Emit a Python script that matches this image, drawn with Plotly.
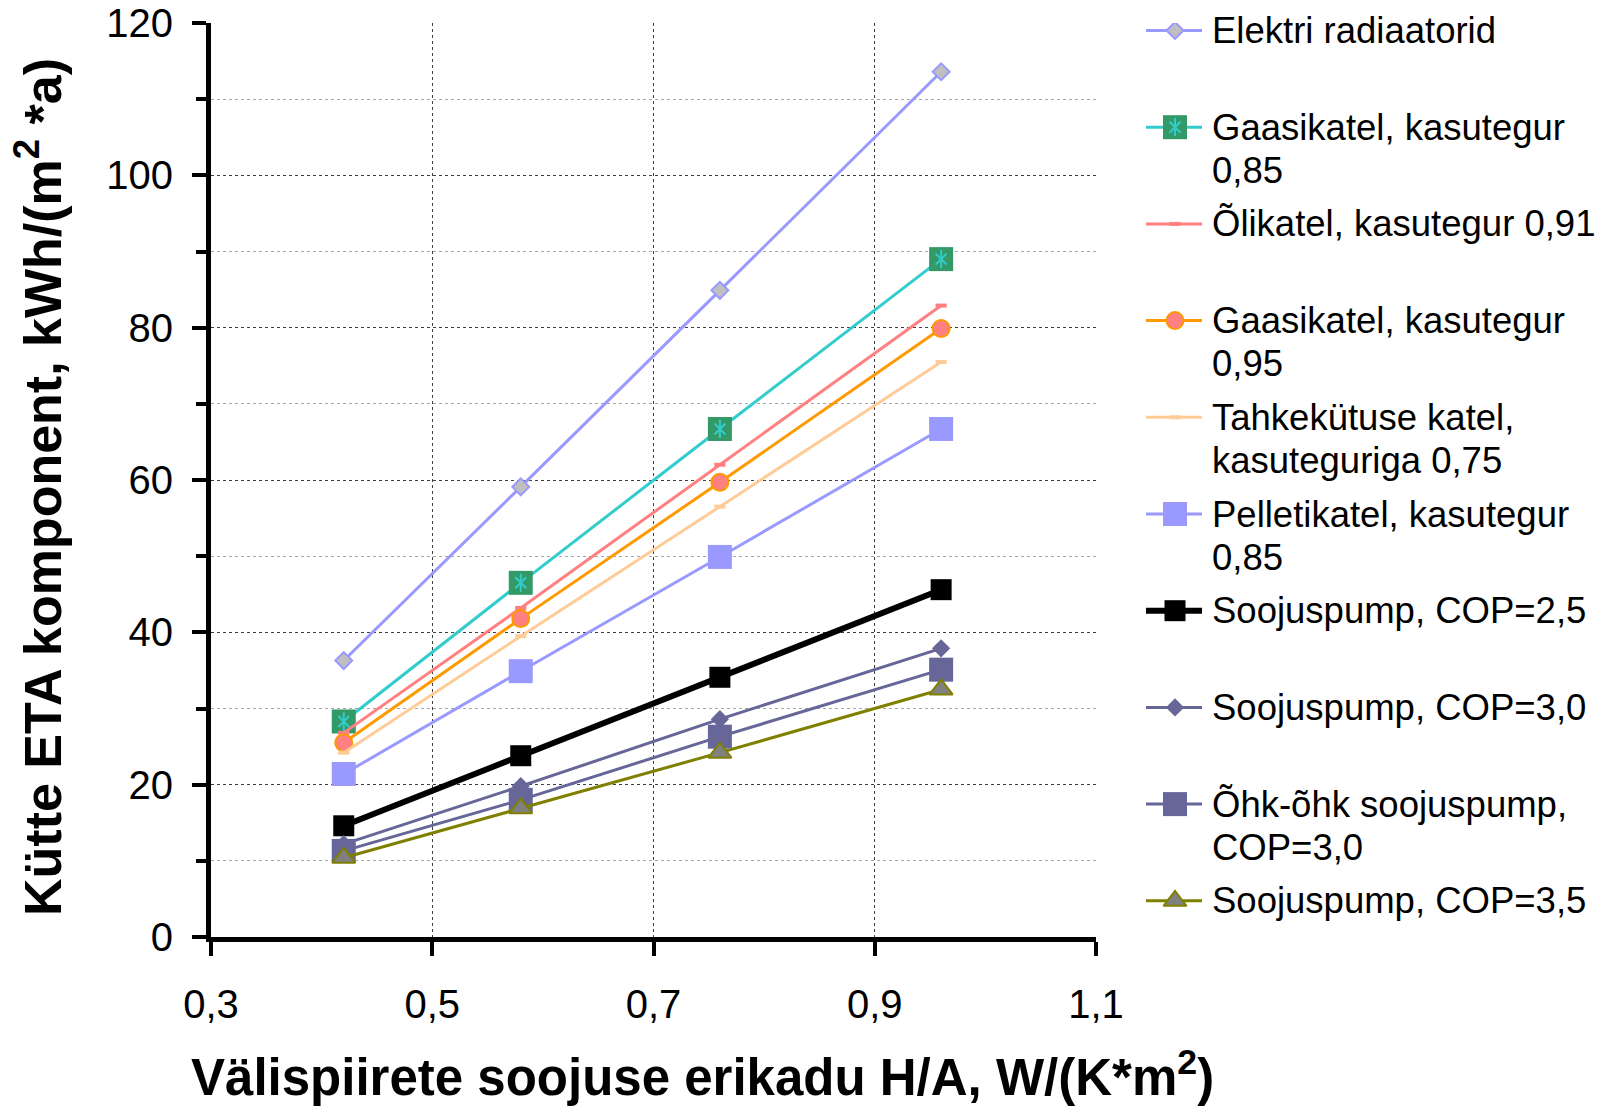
import plotly.graph_objects as go

# Heat loss coefficient of the envelope, W/(K*m2)
x_values = [0.42, 0.58, 0.76, 0.96]

# Heating energy-performance component, kWh/(m2*a), per heating system
elektri_radiaatorid = [36.3, 59.1, 84.9, 113.6]
gaasikatel_085 = [28.3, 46.5, 66.7, 89.0]
olikatel_091 = [26.8, 43.2, 62.0, 82.9]
gaasikatel_095 = [25.5, 41.8, 59.7, 79.9]
tahkekutuse_075 = [24.2, 39.5, 56.5, 75.5]
pelletikatel_085 = [21.4, 34.9, 49.9, 66.7]
soojuspump_25 = [14.6, 23.8, 34.1, 45.6]
soojuspump_30 = [12.2, 19.8, 28.6, 37.9]
ohk_ohk_30 = [11.3, 18.0, 26.3, 35.1]
soojuspump_35 = [10.4, 16.9, 24.2, 32.5]

series_names = [
    ["Elektri radiaatorid"],
    ["Gaasikatel, kasutegur", "0,85"],
    ["Õlikatel, kasutegur 0,91"],
    ["Gaasikatel, kasutegur", "0,95"],
    ["Tahkekütuse katel,", "kasuteguriga 0,75"],
    ["Pelletikatel, kasutegur", "0,85"],
    ["Soojuspump, COP=2,5"],
    ["Soojuspump, COP=3,0"],
    ["Õhk-õhk soojuspump,", "COP=3,0"],
    ["Soojuspump, COP=3,5"],
]
series_values = [
    elektri_radiaatorid, gaasikatel_085, olikatel_091, gaasikatel_095,
    tahkekutuse_075, pelletikatel_085, soojuspump_25, soojuspump_30,
    ohk_ohk_30, soojuspump_35,
]

x_ticks = [0.3, 0.5, 0.7, 0.9, 1.1]
x_tick_labels = ["0,3", "0,5", "0,7", "0,9", "1,1"]
y_ticks = [0, 20, 40, 60, 80, 100, 120]
y_tick_labels = ["0", "20", "40", "60", "80", "100", "120"]

FONT = "Liberation Sans, Arial, sans-serif"

# Line / marker styling per series (extra = overlaid marker glyphs)
styles = [
    dict(line=dict(color="#9999FF", width=3),
         marker=dict(symbol="diamond", size=13, color="#C0C0C0",
                     line=dict(color="#9999FF", width=2))),
    dict(line=dict(color="#33CCCC", width=3),
         marker=dict(symbol="square", size=24, color="#339966", line=dict(width=0)),
         extra=[dict(symbol="x-thin-open", size=11, color="#33CCCC",
                     line=dict(color="#33CCCC", width=2)),
                dict(symbol="line-ns-open", size=13, color="#33CCCC",
                     line=dict(color="#33CCCC", width=2))]),
    dict(line=dict(color="#FF8080", width=3),
         marker=dict(symbol="line-ew-open", size=8, color="#FF8080",
                     line=dict(color="#FF8080", width=4))),
    dict(line=dict(color="#FF9900", width=3),
         marker=dict(symbol="circle", size=17, color="#FF8080",
                     line=dict(color="#FF9900", width=2))),
    dict(line=dict(color="#FFCC99", width=3),
         marker=dict(symbol="line-ew-open", size=8, color="#FFCC99",
                     line=dict(color="#FFCC99", width=4))),
    dict(line=dict(color="#9999FF", width=3),
         marker=dict(symbol="square", size=24, color="#9999FF", line=dict(width=0))),
    dict(line=dict(color="#000000", width=6),
         marker=dict(symbol="square", size=21, color="#000000", line=dict(width=0))),
    dict(line=dict(color="#666699", width=3),
         marker=dict(symbol="diamond", size=14, color="#666699", line=dict(width=0))),
    dict(line=dict(color="#666699", width=3),
         marker=dict(symbol="square", size=24, color="#666699", line=dict(width=0))),
    dict(line=dict(color="#808000", width=3),
         marker=dict(symbol="triangle-up", size=20, color="#808080",
                     line=dict(color="#808000", width=2))),
]

fig = go.Figure()

# Data series
for name, vals, st in zip(series_names, series_values, styles):
    fig.add_trace(go.Scatter(
        x=x_values, y=vals, mode="lines+markers", name=" ".join(name),
        line=st["line"], marker=st["marker"], showlegend=False,
        cliponaxis=False,
    ))
    for ex in st.get("extra", []):
        fig.add_trace(go.Scatter(
            x=x_values, y=vals, mode="markers", marker=ex,
            showlegend=False, hoverinfo="skip", cliponaxis=False,
        ))

# Legend drawn on a helper axis laid out in pixel units
LEG_X0, LEG_X1, LEG_XM, LEG_TX = 1146, 1202, 1175, 1210
ROW0, ROW_STEP, LINE_STEP = 30.5, 96.7, 43
annotations = []
for i, (name, st) in enumerate(zip(series_names, styles)):
    ry = ROW0 + ROW_STEP * i
    fig.add_trace(go.Scatter(
        x=[LEG_X0, LEG_X1], y=[ry, ry], mode="lines", line=st["line"],
        xaxis="x2", yaxis="y2", showlegend=False, hoverinfo="skip",
    ))
    for mk in [st["marker"]] + st.get("extra", []):
        fig.add_trace(go.Scatter(
            x=[LEG_XM], y=[ry], mode="markers", marker=mk,
            xaxis="x2", yaxis="y2", showlegend=False, hoverinfo="skip",
        ))
    for k, line_text in enumerate(name):
        annotations.append(dict(
            x=LEG_TX, y=ry + LINE_STEP * k, xref="x2", yref="y2",
            text=line_text, showarrow=False, xanchor="left", yanchor="middle",
            font=dict(family=FONT, size=36.5, color="black"),
        ))

# Axis titles
PLOT_L, PLOT_T, PLOT_W, PLOT_H = 211, 23, 1387, 914
annotations.append(dict(
    x=(702 - PLOT_L) / PLOT_W, y=(PLOT_T + PLOT_H - 1074) / PLOT_H,
    xref="paper", yref="paper", showarrow=False,
    text="Välispiirete soojuse erikadu H/A, W/(K*m<sup>2</sup>)",
    xanchor="center", yanchor="middle",
    font=dict(family=FONT, size=51, color="black", weight="bold"),
))
annotations.append(dict(
    x=(39 - PLOT_L) / PLOT_W, y=(PLOT_T + PLOT_H - 487) / PLOT_H,
    xref="paper", yref="paper", showarrow=False, textangle=-90,
    text="Kütte ETA komponent, kWh/(m<sup>2</sup> *a)",
    xanchor="center", yanchor="middle",
    font=dict(family=FONT, size=52, color="black", weight="bold"),
))

fig.update_layout(
    width=1598, height=1106,
    margin=dict(l=PLOT_L, r=0, t=PLOT_T, b=1106 - PLOT_T - PLOT_H, autoexpand=False),
    paper_bgcolor="white", plot_bgcolor="white",
    font=dict(family=FONT, color="black"),
    showlegend=False,
    xaxis=dict(
        domain=[0, 885 / PLOT_W], range=[0.3, 1.1], automargin=False,
        tickvals=x_ticks, ticktext=x_tick_labels,
        ticks="outside", ticklen=14, tickwidth=4, tickcolor="black",
        showline=True, linewidth=5, linecolor="black",
        showgrid=True, gridcolor="#404040", griddash="dot", gridwidth=1,
        zeroline=False, tickfont=dict(size=40, family=FONT),
        ticklabelstandoff=14,
    ),
    yaxis=dict(
        range=[0, 120], tickvals=y_ticks, ticktext=y_tick_labels,
        automargin=False,
        ticks="outside", ticklen=14, tickwidth=4, tickcolor="black",
        showline=True, linewidth=5, linecolor="black",
        showgrid=True, gridcolor="#404040", griddash="dot", gridwidth=1,
        zeroline=False, tickfont=dict(size=40, family=FONT),
        ticklabelstandoff=11,
        minor=dict(dtick=10, ticks="outside", ticklen=10, tickwidth=4,
                   tickcolor="black", showgrid=True, gridcolor="#A6A6A6",
                   griddash="dot", gridwidth=1),
    ),
    xaxis2=dict(domain=[(1120 - PLOT_L) / PLOT_W, 1], range=[1120, 1598],
                visible=False, anchor="y2", fixedrange=True, automargin=False),
    yaxis2=dict(domain=[0, 1], range=[PLOT_T + PLOT_H, PLOT_T],
                visible=False, anchor="x2", fixedrange=True, automargin=False),
    annotations=annotations,
)

fig.write_html("out.html")
